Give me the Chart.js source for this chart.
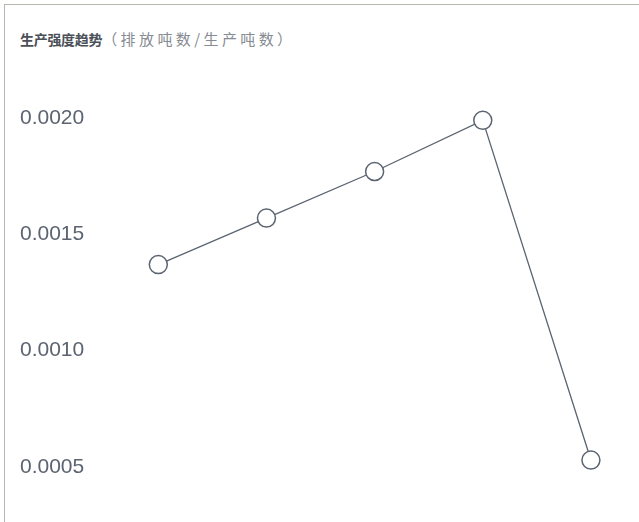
<!DOCTYPE html>
<html>
<head>
<meta charset="utf-8">
<script src="https://cdn.jsdelivr.net/npm/chart.js@4"></script>
<style>
    html, body { margin: 0; padding: 0; width: 639px; height: 522px; overflow: hidden; background: #fff; }
    .card {
        position: absolute; left: 4px; top: 4px; width: 700px; height: 640px;
        border-top: 1px solid #b9b5af; border-left: 1px solid #b9b5af;
        box-sizing: border-box;
    }
    .title {
        position: absolute; left: 20px; top: 30px; font-size: 14px; line-height: 17px;
        font-family: "Noto Sans CJK SC", sans-serif; white-space: nowrap;
    }
    .title b { color: #4b5058; font-weight: 700; letter-spacing: -0.3px; }
    .title span { color: #868b92; font-size: 15px; letter-spacing: 3.4px; }
    #chart { position: absolute; left: 0; top: 0; }
</style>
</head>
<body>
<div class="card"></div>
<div class="title"><b>生产强度趋势</b><span>（排放吨数/生产吨数）</span></div>
<canvas id="chart" width="660" height="616"></canvas>

<script>
// 数据
const categories = ['2019', '2020', '2021', '2022', '2023'];
const intensity = [0.00137, 0.00157, 0.00177, 0.00199, 0.00053];
const yTicks = [0, 0.0005, 0.0010, 0.0015, 0.0020];

const lineColor = '#5b6470';

document.addEventListener('DOMContentLoaded', function () {
    const ctx = document.getElementById('chart');

    new Chart(ctx, {
        type: 'line',
        data: {
            labels: categories,
            datasets: [{
                label: '生产强度',
                data: intensity,
                borderColor: lineColor,
                borderWidth: 1.3,
                pointRadius: 9,
                pointHoverRadius: 9,
                pointBorderWidth: 1.5,
                pointBorderColor: lineColor,
                pointBackgroundColor: '#fff',
                tension: 0,
                fill: false,
                clip: false
            }]
        },
        options: {
            responsive: false,
            animation: false,
            devicePixelRatio: 1,
            layout: {
                padding: { left: 0, top: 118, right: 15, bottom: 18 }
            },
            plugins: {
                legend: { display: false },
                title: { display: false },
                tooltip: { enabled: false }
            },
            scales: {
                x: {
                    type: 'category',
                    display: false,
                    offset: true
                },
                y: {
                    min: yTicks[0],
                    max: yTicks[yTicks.length - 1],
                    afterBuildTicks: function (axis) {
                        axis.ticks = yTicks.map(v => ({ value: v }));
                    },
                    grid: { display: false, drawTicks: false },
                    border: { display: false },
                    ticks: {
                        padding: 20,
                        color: '#5b6470',
                        font: { family: '"Liberation Sans", Arial, sans-serif', size: 21 },
                        callback: function (value) {
                            return Number(value).toFixed(4);
                        }
                    }
                }
            }
        }
    });
});
</script>
</body>
</html>
